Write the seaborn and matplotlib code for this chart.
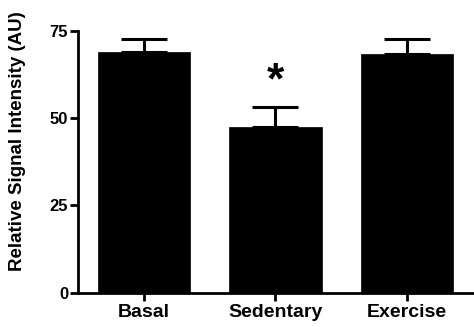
import matplotlib
matplotlib.use("Agg")
import matplotlib.pyplot as plt
import seaborn as sns
import pandas as pd
import numpy as np

# Group means and SEM for relative signal intensity
groups = ["Basal", "Sedentary", "Exercise"]
means = [69.0, 47.5, 68.5]
sems = [3.7, 5.6, 4.2]
y_ticks = [0, 25, 50, 75]
significance_marker = "*"
marker_value = 60.5  # height of the significance asterisk above Sedentary

sns.set_theme(style="ticks")
plt.rcParams["font.family"] = ["Liberation Sans", "DejaVu Sans"]
plt.rcParams["font.weight"] = "bold"
for key in ["text.color", "axes.labelcolor", "xtick.color", "ytick.color", "axes.edgecolor"]:
    plt.rcParams[key] = "black"

df = pd.DataFrame({"group": groups, "value": means})

fig = plt.figure(figsize=(4.74, 3.27), dpi=100)
ax = fig.add_axes([0.164, 0.1055, 0.834, 0.80])

x = np.arange(len(groups))
sns.barplot(data=df, x="group", y="value", order=groups, color="black",
            width=0.7, errorbar=None, saturation=1, edgecolor="black",
            linewidth=0.5, ax=ax, zorder=2)

# upward-only SEM bars starting at the bar tops
ax.errorbar(x, means, yerr=[np.zeros(len(sems)), sems], fmt="none",
            ecolor="black", elinewidth=2.2, capsize=16.5, capthick=2.2, zorder=3)

ax.text(1, marker_value, significance_marker, ha="center", va="center",
        fontsize=32, fontweight="bold", color="black")

ax.set_xlim(-0.5, 2.5)
ax.set_ylim(0, 75)
ax.set_yticks(y_ticks)
ax.set_yticklabels([str(t) for t in y_ticks], fontsize=12, fontweight="bold")
ax.set_xticks(x)
ax.set_xticklabels(groups, fontsize=14, fontweight="bold")
ax.set_xlabel("")
ax.set_ylabel("Relative Signal Intensity (AU)", fontsize=13.5, fontweight="bold")
ax.yaxis.set_label_coords(-0.13, 0.58)

for side in ["top", "right"]:
    ax.spines[side].set_visible(False)
for side in ["left", "bottom"]:
    ax.spines[side].set_linewidth(2.0)
    ax.spines[side].set_color("black")

ax.tick_params(axis="y", length=6, width=2, pad=1, colors="black")
ax.tick_params(axis="x", length=6, width=2, pad=2, colors="black")

fig.savefig("out.png", dpi=100, facecolor="white")
